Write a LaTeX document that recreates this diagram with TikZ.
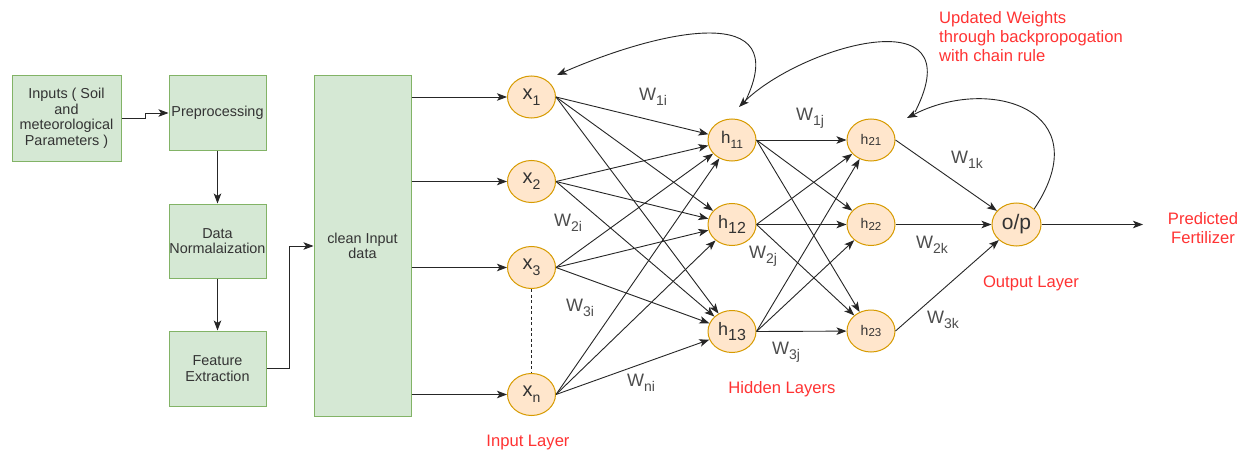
\documentclass[tikz,border=0pt]{standalone}
\usepackage{fontspec}
\setmainfont{Liberation Sans}
\usetikzlibrary{arrows.meta,calc,shapes.geometric}
\definecolor{gfill}{HTML}{D5E8D4}
\definecolor{gline}{HTML}{82B366}
\definecolor{ofill}{HTML}{FFE6CC}
\definecolor{oline}{HTML}{D79B00}
\definecolor{redtxt}{HTML}{FF3333}
\definecolor{txt}{HTML}{333333}
\definecolor{wtxt}{HTML}{4D4D4D}
\newcommand{\fs}[2]{\fontsize{#1}{#2}\selectfont}
\newcommand{\lsub}[3]{\raisebox{#3}{\fs{#1}{#1}#2}}
\begin{document}
\begin{tikzpicture}[x=1pt,y=-1pt,
  box/.style={draw=gline, fill=gfill, line width=1pt, align=center, text=txt, font=\fs{14.4}{15.5}, inner sep=0pt},
  neuron/.style={ellipse, draw=oline, fill=ofill, line width=1pt, minimum width=48pt, minimum height=42pt, inner sep=0pt, text=txt},
  arr/.style={-{Stealth[length=10pt,width=7.5pt,inset=2.5pt]}, line width=0.9pt, draw=black!85},
  wl/.style={text=wtxt, font=\fs{18}{18}, inner sep=0pt},
  redlbl/.style={text=redtxt, font=\fs{16.6}{19}, align=center, inner sep=0pt}]
\useasboundingbox[fill=white] (0,0) rectangle (1248,452);

% pipeline boxes
\node[box, minimum width=109pt, minimum height=85pt] (inp) at (66.5,118.5) {Inputs ( Soil\\and\\meteorological\\Parameters )};
\node[box, minimum width=97pt, minimum height=74pt] (pre) at (217.5,113) {Preprocessing};
\node[box, minimum width=97pt, minimum height=74pt] (norm) at (217.5,241) {Data\\Normalaization};
\node[box, minimum width=97pt, minimum height=75pt] (feat) at (217.5,368.5) {Feature\\Extraction};
\node[box, minimum width=97pt, minimum height=340pt] (clean) at (362.5,246) {clean Input\\data};

% neurons
\node[neuron, font=\fs{20}{20}] (x1) at (531.5,97) {x\lsub{14}{1}{-0.3em}};
\node[neuron, font=\fs{20}{20}] (x2) at (531.5,181.5) {x\lsub{14}{2}{-0.3em}};
\node[neuron, font=\fs{20}{20}] (x3) at (531.5,267.5) {x\lsub{14}{3}{-0.3em}};
\node[neuron, font=\fs{20}{20}] (xn) at (531.5,394.5) {x\lsub{14}{n}{-0.3em}};
\node[neuron, font=\fs{17}{17}] (h11) at (732,140) {h\lsub{12}{11}{-0.3em}};
\node[neuron, font=\fs{18}{18}] (h12) at (732,224.5) {h\lsub{16}{12}{-0.25em}};
\node[neuron, font=\fs{18}{18}] (h13) at (732,331.5) {h\lsub{16}{13}{-0.25em}};
\node[neuron, font=\fs{14}{14}] (h21) at (871,140) {h\lsub{11.5}{21}{-0.12em}};
\node[neuron, font=\fs{14}{14}] (h22) at (871,224.5) {h\lsub{11.5}{22}{-0.12em}};
\node[neuron, font=\fs{14}{14}] (h23) at (871,331) {h\lsub{11.5}{23}{-0.12em}};
\node[neuron, font=\fs{21}{21}, minimum width=49pt, minimum height=43pt] (op) at (1016.5,224.5) {o/p};

% pipeline connectors
\draw[arr] (inp.east) -- ++(24,0) |- (pre.west);
\draw[arr] (pre) -- (norm);
\draw[arr] (norm) -- (feat);
\draw[arr] (feat.east) -- ++(23,0) |- (clean.west);
\foreach \n in {x1,x2,x3,xn} \draw[arr] (clean.east |- \n.west) -- (\n.west);
\draw[line width=0.9pt, draw=black!85, dash pattern=on 3pt off 2.5pt] (x3.south) -- (xn.north);

% input -> hidden 1
\foreach \a in {x1,x2,x3,xn} \foreach \b in {h11,h12,h13} \draw[arr] (\a.east) -- (\b);
% hidden 1 -> hidden 2
\foreach \a in {h11,h12,h13} \foreach \b in {h21,h22,h23} \draw[arr] (\a.east) -- (\b);
% hidden 2 -> output
\foreach \a in {h21,h22,h23} \draw[arr] (\a.east) -- (op);
\coordinate (pf) at (1143,224.5);
\draw[arr] (op.east) -- (pf);

% backpropagation curves
\coordinate (tip21) at (907,118);
\coordinate (sB) at (915,112);
\coordinate (tip11) at (739,107);
\coordinate (sC) at (745,102);
\coordinate (tip1) at (557,75);
\draw[arr] (op.north east) .. controls (1100,110) and (990,75) .. (tip21);
\draw[arr] (sB) .. controls (975,-5) and (799,47) .. (tip11);
\draw[arr] (sC) .. controls (795,0) and (660,30) .. (tip1);

% weight labels
\node[wl] (w1i) at (653,97) {W\lsub{14}{1i}{-0.3em}};
\node[wl] (w2i) at (568,223) {W\lsub{14}{2i}{-0.3em}};
\node[wl] (w3i) at (580,308) {W\lsub{14}{3i}{-0.3em}};
\node[wl] (wni) at (641,383) {W\lsub{14}{ni}{-0.3em}};
\node[wl] (w1j) at (810,118) {W\lsub{14}{1j}{-0.3em}};
\node[wl] (w2j) at (763,256) {W\lsub{14}{2j}{-0.3em}};
\node[wl] (w3j) at (786,352) {W\lsub{14}{3j}{-0.3em}};
\node[wl] (w1k) at (967,160) {W\lsub{14}{1k}{-0.3em}};
\node[wl] (w2k) at (932,245) {W\lsub{14}{2k}{-0.3em}};
\node[wl] (w3k) at (943,320) {W\lsub{14}{3k}{-0.3em}};

% red captions
\node[redlbl, anchor=west, align=left] (upd) at (939,37) {Updated Weights\\through backpropogation\\with chain rule};
\node[redlbl] (pred) at (1203,228) {Predicted\\Fertilizer};
\node[redlbl] (outl) at (1031,283) {Output Layer};
\node[redlbl] (hidl) at (782,389) {Hidden Layers};
\node[redlbl] (inl) at (528,443) {Input Layer};
\end{tikzpicture}
\end{document}
